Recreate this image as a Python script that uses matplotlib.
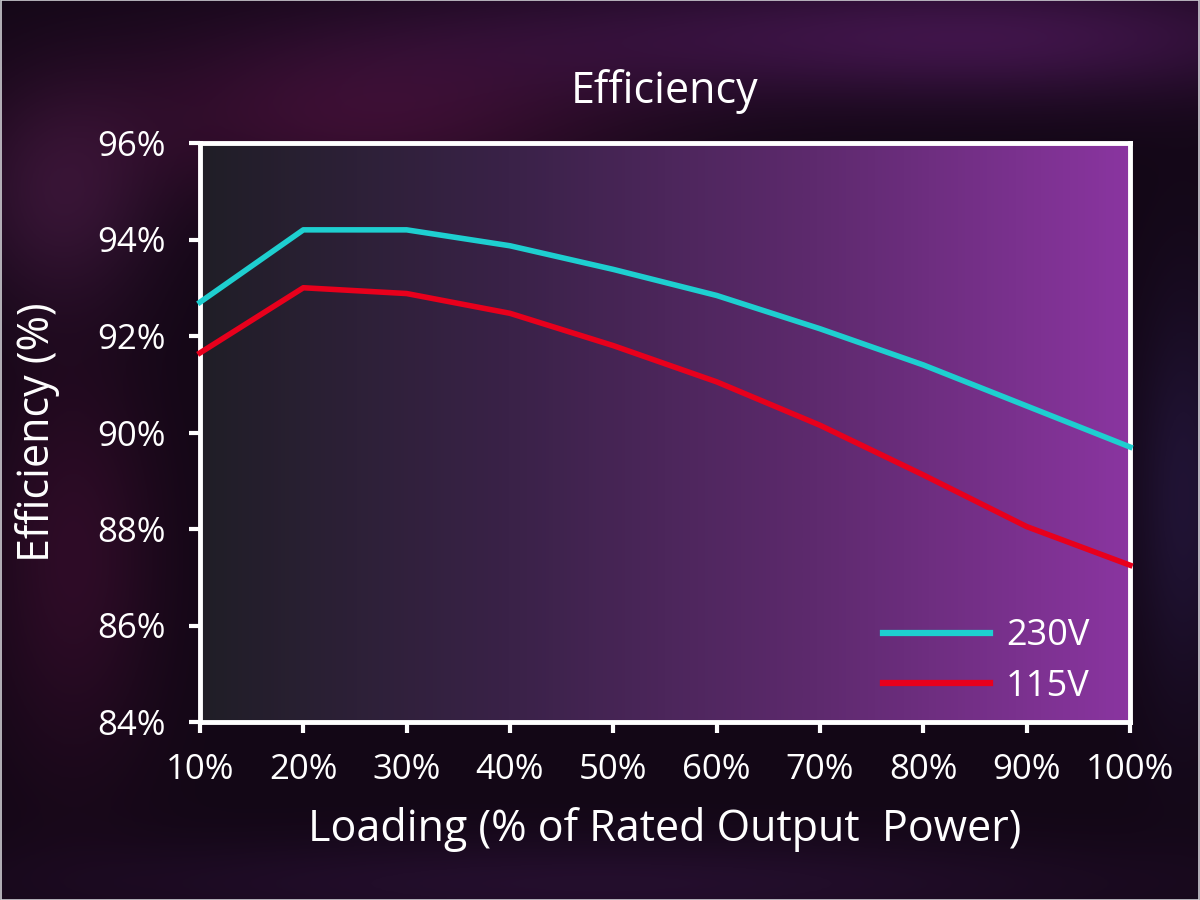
import numpy as np
import matplotlib
matplotlib.use("Agg")
import matplotlib.pyplot as plt
from matplotlib.colors import LinearSegmentedColormap

plt.rcParams['font.family'] = ['Open Sans', 'DejaVu Sans']

# ---- data ----
loading = [10, 20, 30, 40, 50, 60, 70, 80, 90, 100]
eff_230 = [92.7, 94.2, 94.2, 93.87, 93.38, 92.84, 92.15, 91.4, 90.55, 89.7]
eff_115 = [91.65, 93.0, 92.88, 92.47, 91.8, 91.05, 90.15, 89.12, 88.05, 87.25]
series_labels = ["230V", "115V"]
x_ticks = [10, 20, 30, 40, 50, 60, 70, 80, 90, 100]
x_ticklabels = ["10%", "20%", "30%", "40%", "50%", "60%", "70%", "80%", "90%", "100%"]
y_ticks = [84, 86, 88, 90, 92, 94, 96]
y_ticklabels = ["84%", "86%", "88%", "90%", "92%", "94%", "96%"]

fig = plt.figure(figsize=(12, 9), dpi=100)
fig.patch.set_facecolor("#130716")

# ---- decorative dark background ----
bg = fig.add_axes([0, 0, 1, 1], zorder=0)
H, W = 300, 400
yy, xx = np.mgrid[0:H, 0:W] / np.array([H, W])[:, None, None]
img = np.zeros((H, W, 3))
img[...] = np.array([0x13, 0x07, 0x16]) / 255.0
def blob(cx, cy, sx, sy, col, amp):
    g = np.exp(-(((xx - cx) / sx) ** 2 + ((yy - cy) / sy) ** 2))
    return g[..., None] * (np.array(col) / 255.0) * amp
img += blob(0.30, 0.13, 0.22, 0.09, (55, 10, 38), 0.7)
img += blob(0.05, 0.22, 0.08, 0.12, (45, 18, 40), 0.7)
img += blob(0.60, 0.04, 0.35, 0.07, (38, 12, 44), 0.7)
img += blob(0.88, 0.04, 0.25, 0.07, (40, 12, 46), 0.7)
img += blob(0.06, 0.62, 0.07, 0.22, (45, 8, 28), 0.6)
img += blob(0.985, 0.55, 0.04, 0.22, (22, 20, 50), 0.6)
img += blob(0.50, 0.98, 0.45, 0.05, (28, 12, 38), 0.6)
img = np.clip(img, 0, 1)
bg.imshow(img, extent=[0, 1, 0, 1], aspect='auto', origin='upper')
bg.set_axis_off()
bg.add_patch(plt.Rectangle((0.0005, 0.0005), 0.999, 0.999, fill=False,
                           edgecolor="#cfcfd4", linewidth=1.2, transform=bg.transAxes))

# ---- main axes ----
ax = fig.add_axes([200 / 1200, 1 - 722 / 900, 930 / 1200, (722 - 143) / 900], zorder=1)
grad = LinearSegmentedColormap.from_list("g", ["#201e27", "#3a2248", "#5e2a6e", "#8a35a0"])
ax.imshow(np.linspace(0, 1, 256)[None, :], cmap=grad, aspect='auto',
          extent=[10, 100, 84, 96], zorder=0, interpolation='bicubic')

ax.plot(loading, eff_230, color="#1ecfd0", linewidth=4, label=series_labels[0],
        solid_joinstyle='round', zorder=3, clip_on=False)
ax.plot(loading, eff_115, color="#e8001c", linewidth=4, label=series_labels[1],
        solid_joinstyle='round', zorder=3, clip_on=False)

ax.set_xlim(10, 100)
ax.set_ylim(84, 96)
ax.set_xticks(x_ticks)
ax.set_xticklabels(x_ticklabels)
ax.set_yticks(y_ticks)
ax.set_yticklabels(y_ticklabels)
for s in ax.spines.values():
    s.set_color("white")
    s.set_linewidth(3.5)
ax.tick_params(axis='both', colors='white', labelcolor='white', direction='out',
               length=8, width=3, labelsize=25)
ax.tick_params(axis='y', pad=17)
ax.tick_params(axis='x', pad=14)

ax.set_title("Efficiency", color="white", fontsize=31, y=(808 - 178) / 579, va='center', pad=0)
ax.set_xlabel("Loading (% of Rated Output  Power)", color="white", fontsize=31, va='center')
ax.xaxis.set_label_coords(0.5, (70 - 178) / 579)
ax.set_ylabel("Efficiency (%)", color="white", fontsize=31, va='center')
ax.yaxis.set_label_coords((38 - 200) / 930, 0.5)

leg = ax.legend(loc='lower right', bbox_to_anchor=(0.972, 0.005), frameon=False,
                fontsize=26, handlelength=2.95, handletextpad=0.45, labelspacing=0.4,
                borderaxespad=0, labelcolor='white')
for h in leg.get_lines():
    h.set_linewidth(4.5)

fig.savefig("out.png", dpi=100, facecolor=fig.get_facecolor())
